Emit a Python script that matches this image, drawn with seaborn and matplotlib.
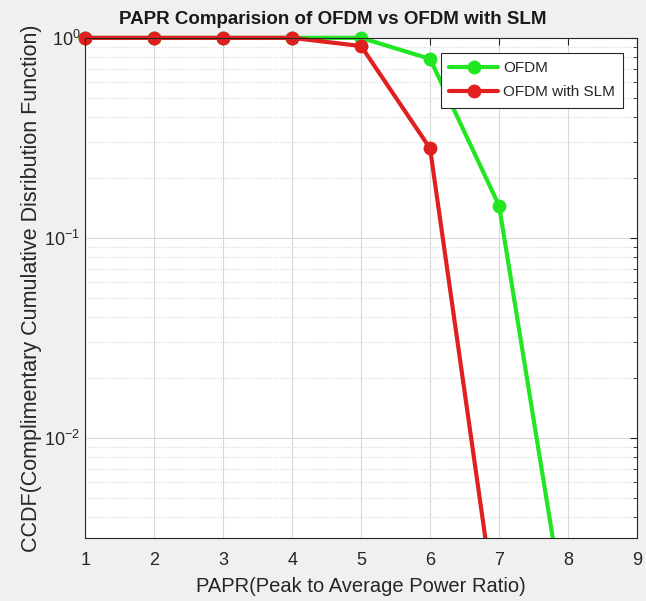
import numpy as np
import pandas as pd
import matplotlib
matplotlib.use("Agg")
import matplotlib.pyplot as plt
import seaborn as sns
from matplotlib.ticker import LogLocator, NullFormatter
from matplotlib.transforms import Bbox, TransformedBbox

# Данные
papr = [1, 2, 3, 4, 5, 6, 7, 8]
ccdf_ofdm = [1.0, 1.0, 1.0, 1.0, 1.0, 0.785, 0.145, 0.00107]
papr_slm = [1, 2, 3, 4, 5, 6, 7]
ccdf_slm = [1.0, 1.0, 1.0, 1.0, 0.91, 0.28, 0.00104]
series_names = ["OFDM", "OFDM with SLM"]
x_ticks = [1, 2, 3, 4, 5, 6, 7, 8, 9]

df = pd.concat([
    pd.DataFrame({"papr": papr, "ccdf": ccdf_ofdm, "series": series_names[0]}),
    pd.DataFrame({"papr": papr_slm, "ccdf": ccdf_slm, "series": series_names[1]}),
])

sns.set_style("white")
plt.rcParams['font.family'] = ['Liberation Sans', 'DejaVu Sans']

fig = plt.figure(figsize=(6.46, 6.01), dpi=100, facecolor="#f0f0f0")
ax = fig.add_axes([0.132, 0.105, 0.854, 0.832])

sns.lineplot(data=df, x="papr", y="ccdf", hue="series",
             palette=["#22e622", "#e02020"], marker="o", markersize=10,
             markeredgewidth=0, linewidth=3, ax=ax, sort=False)

# маркеры сверху не обрезаем, линии снизу обрезаем
clip = TransformedBbox(Bbox([[-0.05, 0.0], [1.05, 1.1]]), ax.transAxes)
for ln in ax.get_lines():
    ln.set_clip_box(clip)

ax.set_yscale("log")
ax.set_xlim(1, 9)
ax.set_ylim(10 ** -2.5, 1.0)
ax.set_xticks(x_ticks)
ax.yaxis.set_major_locator(LogLocator(base=10, numticks=10))
ax.yaxis.set_minor_locator(LogLocator(base=10, subs=np.arange(2, 10), numticks=20))
ax.yaxis.set_minor_formatter(NullFormatter())

# сетка в стиле MATLAB
ax.grid(True, which="major", color="#d9d9d9", linewidth=0.8, linestyle="-")
ax.grid(True, which="minor", axis="y", color="#d4d4d4", linewidth=0.8, linestyle=":")
ax.set_axisbelow(True)

for s in ax.spines.values():
    s.set_color("#262626")
    s.set_linewidth(0.8)
ax.tick_params(which="both", direction="in", top=True, right=True, colors="#262626",
               labelsize=13)
ax.tick_params(which="major", length=5)
ax.tick_params(which="minor", length=3)
ax.tick_params(axis="x", pad=10)

fig.text(0.515, 0.968, "PAPR Comparision of OFDM vs OFDM with SLM", fontsize=13.5,
         fontweight="bold", ha="center", va="center", color="#1a1a1a")
ax.set_xlabel("PAPR(Peak to Average Power Ratio)", fontsize=14.5, color="#262626",
              labelpad=6)
ax.set_ylabel("CCDF(Complimentary Cumulative Disribution Function)", fontsize=15.5,
              color="#262626", labelpad=2)

leg = ax.legend(loc="upper right", bbox_to_anchor=(0.975, 0.97), borderaxespad=0,
                fontsize=11, frameon=True, fancybox=False, edgecolor="#262626",
                framealpha=1, handlelength=3.2, handletextpad=0.3, borderpad=0.55,
                labelspacing=0.65)
leg.get_frame().set_linewidth(0.8)

fig.savefig("out.png", dpi=100, facecolor=fig.get_facecolor())
